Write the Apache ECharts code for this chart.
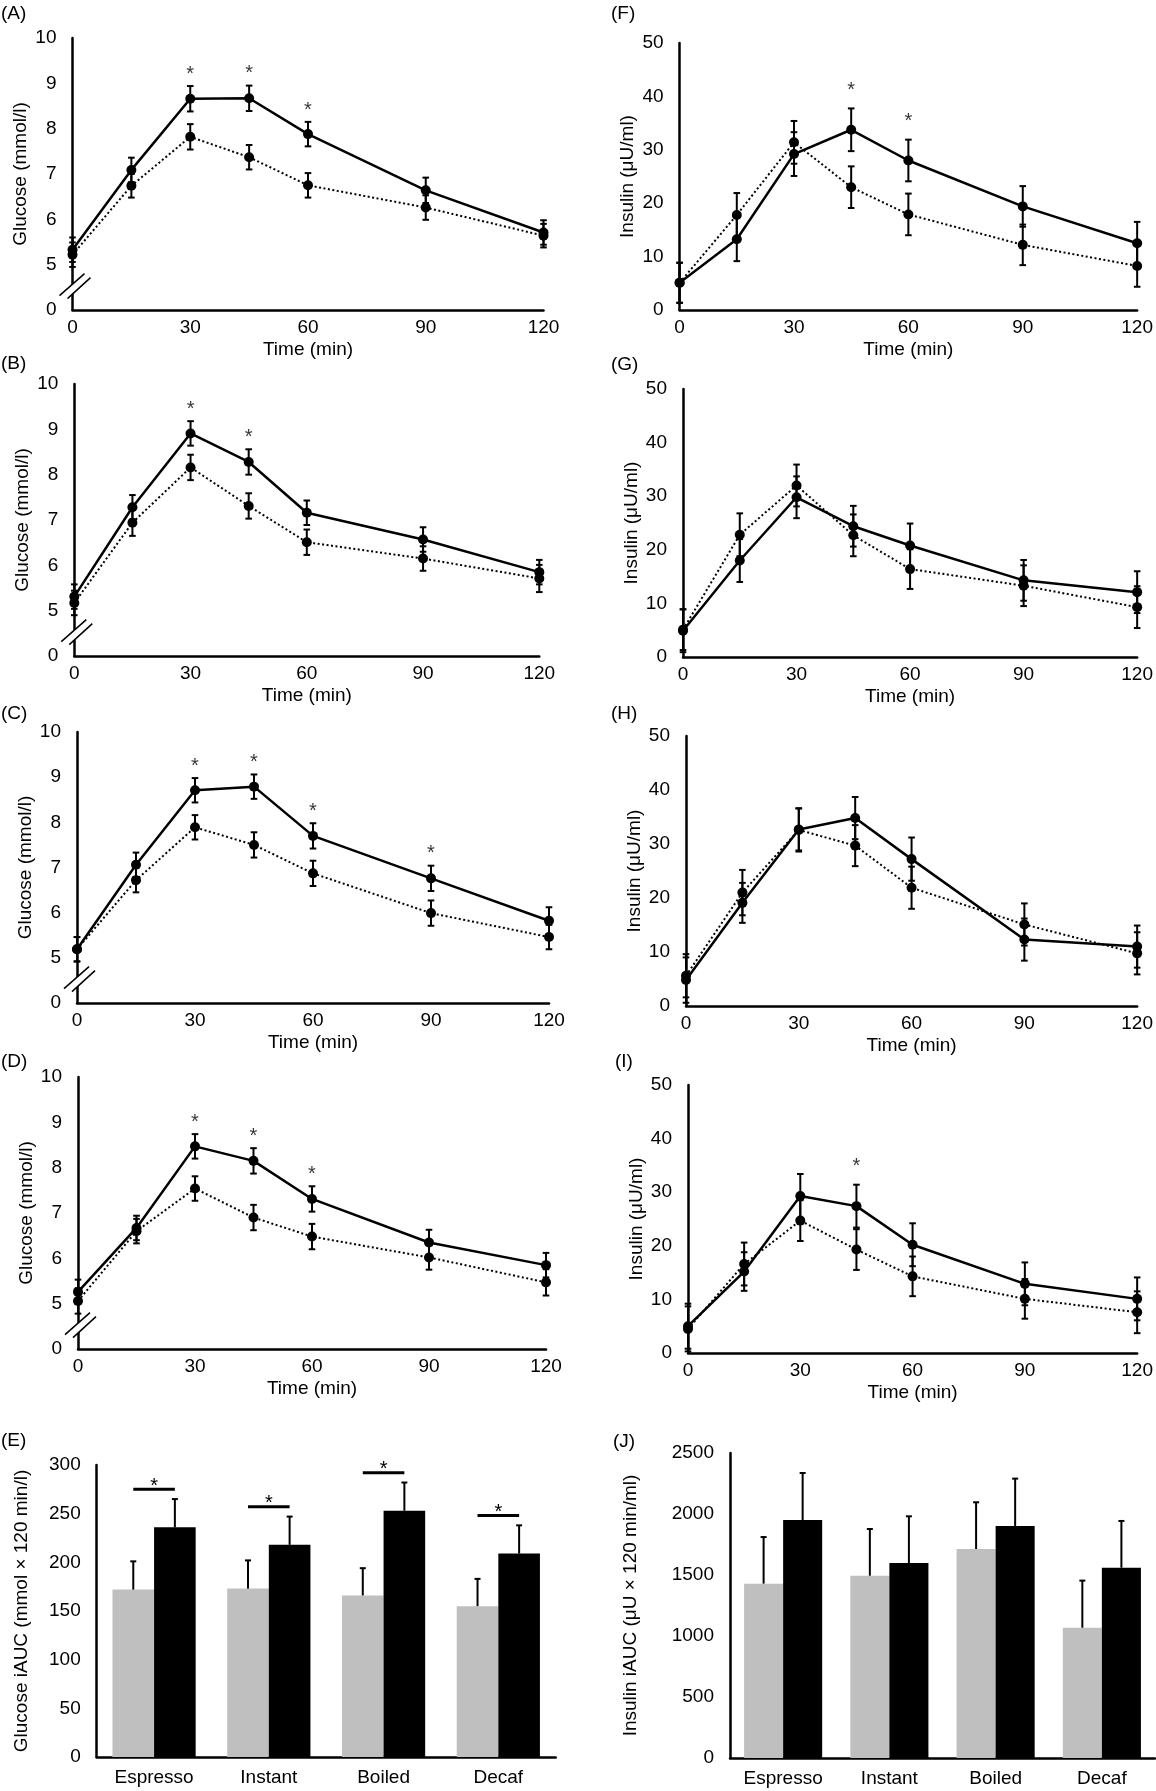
<!DOCTYPE html>
<html>
<head>
<meta charset="utf-8">
<title>Glucose and insulin responses</title>
<script src="https://cdn.jsdelivr.net/npm/echarts@6/dist/echarts.min.js"></script>
<style>
html, body { margin: 0; padding: 0; background: #fff; }
#main { width: 1156px; height: 1791px; }
</style>
</head>
<body>
<div id="main"></div>
<script>
// time points (min)
var times = [0, 15, 30, 45, 60, 90, 120];

// glucose (mmol/l) - solid line / dotted line, mean and SE
var gluA = [5.33, 7.09, 8.66, 8.67, 7.88, 6.64, 5.71];
var gluAErr = [0.27, 0.27, 0.28, 0.28, 0.27, 0.28, 0.27];
var gluADot = [5.22, 6.74, 7.82, 7.37, 6.75, 6.26, 5.64];
var gluADotErr = [0.27, 0.26, 0.28, 0.27, 0.27, 0.27, 0.26];

var gluB = [5.31, 7.28, 8.91, 8.28, 7.16, 6.57, 5.85];
var gluBErr = [0.27, 0.27, 0.27, 0.28, 0.27, 0.27, 0.27];
var gluBDot = [5.17, 6.94, 8.16, 7.31, 6.51, 6.15, 5.71];
var gluBDotErr = [0.27, 0.29, 0.28, 0.28, 0.28, 0.27, 0.3];

var gluC = [5.19, 7.06, 8.71, 8.79, 7.7, 6.76, 5.82];
var gluCErr = [0.27, 0.27, 0.27, 0.27, 0.28, 0.28, 0.3];
var gluCDot = [5.19, 6.72, 7.89, 7.5, 6.87, 5.99, 5.46];
var gluCDotErr = [0.27, 0.27, 0.27, 0.28, 0.28, 0.28, 0.27];

var gluD = [5.26, 6.67, 8.47, 8.15, 7.31, 6.35, 5.85];
var gluDErr = [0.27, 0.27, 0.27, 0.28, 0.28, 0.28, 0.27];
var gluDDot = [5.06, 6.6, 7.54, 6.9, 6.48, 6.02, 5.47];
var gluDDotErr = [0.28, 0.27, 0.27, 0.28, 0.28, 0.27, 0.29];

// insulin (μU/ml) - solid line / dotted line, mean and SE
var insF = [5.1, 13.25, 29.2, 33.75, 28, 19.4, 12.5];
var insFErr = [3.75, 4.1, 4.1, 4.0, 3.9, 3.8, 4.0];
var insFDot = [5.1, 17.8, 31.4, 23, 17.9, 12.2, 8.25];
var insFDotErr = [3.75, 4.1, 4.0, 3.9, 3.9, 3.8, 3.9];

var insG = [4.9, 18.0, 29.8, 24.4, 20.8, 14.3, 12.1];
var insGErr = [4.0, 4.0, 3.9, 3.8, 4.1, 3.8, 3.9];
var insGDot = [5.1, 22.8, 32.0, 22.7, 16.4, 13.3, 9.3];
var insGDotErr = [3.8, 4.0, 3.9, 3.9, 3.7, 3.8, 3.9];

var insH = [4.8, 19.1, 32.7, 34.8, 27.2, 12.3, 11.0];
var insHErr = [4.2, 3.7, 3.9, 3.9, 4.0, 3.9, 3.9];
var insHDot = [5.6, 21.0, 32.6, 29.7, 21.9, 15.1, 9.75];
var insHDotErr = [4.0, 4.2, 4.0, 3.8, 3.9, 3.9, 3.9];

var insI = [5.0, 15.2, 29.3, 27.4, 20.2, 12.9, 10.1];
var insIErr = [4.2, 3.6, 4.1, 4.0, 4.0, 4.0, 4.0];
var insIDot = [4.5, 16.6, 24.7, 19.3, 14.3, 10.1, 7.6];
var insIDotErr = [4.2, 4.0, 3.8, 3.8, 3.7, 3.7, 3.9];

// time points marked with *
var sigA = [30, 45, 60];
var sigB = [30, 45];
var sigC = [30, 45, 60, 90];
var sigD = [30, 45, 60];
var sigF = [45, 60];
var sigG = [];
var sigH = [];
var sigI = [45];

// iAUC bars
var coffees = ['Espresso', 'Instant', 'Boiled', 'Decaf'];
var gluAucGray = [172, 173, 166, 155];
var gluAucGrayErr = [29, 29, 28, 28];
var gluAucBlack = [236, 218, 253, 209];
var gluAucBlackErr = [29, 29, 29, 29];
var gluAucSig = [0, 1, 2, 3];
var insAucGray = [1429, 1494, 1713, 1068];
var insAucGrayErr = [382, 383, 383, 386];
var insAucBlack = [1951, 1598, 1902, 1560];
var insAucBlackErr = [385, 383, 388, 383];

var font = '"Liberation Sans", Arial, sans-serif';
var fs = 19;

var linePanels = [
    {label: '(A)', solid: gluA, solidErr: gluAErr, dot: gluADot, dotErr: gluADotErr, sig: sigA, glu: true, box: [72.5, 38, 471, 272], lab: [1, 4]},
    {label: '(F)', solid: insF, solidErr: insFErr, dot: insFDot, dotErr: insFDotErr, sig: sigF, glu: false, box: [679.6, 43, 460, 267], lab: [611, 4]},
    {label: '(B)', solid: gluB, solidErr: gluBErr, dot: gluBDot, dotErr: gluBDotErr, sig: sigB, glu: true, box: [74.3, 384, 465, 272], lab: [1, 354]},
    {label: '(G)', solid: insG, solidErr: insGErr, dot: insGDot, dotErr: insGDotErr, sig: sigG, glu: false, box: [683, 389, 458, 268], lab: [611, 355]},
    {label: '(C)', solid: gluC, solidErr: gluCErr, dot: gluCDot, dotErr: gluCDotErr, sig: sigC, glu: true, box: [77, 732, 472, 271], lab: [1, 704]},
    {label: '(H)', solid: insH, solidErr: insHErr, dot: insHDot, dotErr: insHDotErr, sig: sigH, glu: false, box: [686, 736, 458, 270], lab: [611, 704]},
    {label: '(D)', solid: gluD, solidErr: gluDErr, dot: gluDDot, dotErr: gluDDotErr, sig: sigD, glu: true, box: [78, 1077, 468, 272], lab: [1, 1052]},
    {label: '(I)', solid: insI, solidErr: insIErr, dot: insIDot, dotErr: insIDotErr, sig: sigI, glu: false, box: [688, 1085, 457, 268], lab: [615, 1052]}
];

var barPanels = [
    {label: '(E)', gray: gluAucGray, grayErr: gluAucGrayErr, black: gluAucBlack, blackErr: gluAucBlackErr, sig: gluAucSig,
     name: 'Glucose iAUC (mmol × 120 min/l)', max: 300, step: 50, gap: 0.275, nameGap: 65, box: [96.7, 1465, 459, 292], lab: [1, 1431]},
    {label: '(J)', gray: insAucGray, grayErr: insAucGrayErr, black: insAucBlack, blackErr: insAucBlackErr, sig: [],
     name: 'Insulin iAUC (μU × 120 min/ml)', max: 2500, step: 500, gap: 0.265, nameGap: 90, box: [730, 1453, 425, 305], lab: [613, 1432]}
];

var axisText = {color: '#000', fontSize: fs, fontFamily: font};
var blackLine = {color: '#000', width: 2.5};

var option = {
    animation: false,
    backgroundColor: '#fff',
    grid: [], xAxis: [], yAxis: [], series: [], graphic: []
};

function pairs(vals) {
    return times.map(function (t, k) { return [t, vals[k]]; });
}

//误差线 (both ends capped)
function renderLineErr(params, api) {
    var t = api.value(0), v = api.value(1), e = api.value(2);
    var hi = api.coord([t, v + e]);
    var lo = api.coord([t, v - e]);
    var s = {stroke: '#000', lineWidth: 2};
    return {type: 'group', children: [
        {type: 'line', shape: {x1: hi[0], y1: hi[1], x2: lo[0], y2: lo[1]}, style: s},
        {type: 'line', shape: {x1: hi[0] - 3.3, y1: hi[1], x2: hi[0] + 3.3, y2: hi[1]}, style: s},
        {type: 'line', shape: {x1: lo[0] - 3.3, y1: lo[1], x2: lo[0] + 3.3, y2: lo[1]}, style: s}
    ]};
}

//坐标轴断点 //
function renderBreak(params, api) {
    var c = api.coord([api.value(0), api.value(1)]);
    var a1 = [c[0] - 13, c[1] + 6], b1 = [c[0] + 12, c[1] - 16];
    var a2 = [c[0] - 5, c[1] + 9], b2 = [c[0] + 18, c[1] - 12];
    var s = {stroke: '#000', lineWidth: 1.5};
    return {type: 'group', children: [
        {type: 'polygon', shape: {points: [a1, b1, b2, a2]}, style: {fill: '#fff'}},
        {type: 'line', shape: {x1: a1[0], y1: a1[1], x2: b1[0], y2: b1[1]}, style: s},
        {type: 'line', shape: {x1: a2[0], y1: a2[1], x2: b2[0], y2: b2[1]}, style: s}
    ]};
}

linePanels.forEach(function (p, i) {
    option.grid.push({left: p.box[0], top: p.box[1], width: p.box[2], height: p.box[3]});
    option.xAxis.push({
        type: 'value', gridIndex: i, min: 0, max: 120, interval: 30,
        name: 'Time (min)', nameLocation: 'middle', nameGap: 30, nameTextStyle: axisText,
        axisLine: {onZero: false, lineStyle: blackLine},
        axisTick: {show: false}, splitLine: {show: false},
        axisLabel: {color: '#000', fontSize: fs, fontFamily: font, margin: 8}
    });
    option.yAxis.push({
        type: 'value', gridIndex: i,
        min: p.glu ? 4 : 0, max: p.glu ? 10 : 50, interval: p.glu ? 1 : 10,
        name: p.glu ? 'Glucose (mmol/l)' : 'Insulin (μU/ml)',
        nameLocation: 'middle', nameGap: 42, nameTextStyle: axisText,
        axisLine: {show: true, onZero: false, lineStyle: blackLine},
        axisTick: {show: false}, splitLine: {show: false},
        axisLabel: {
            color: '#000', fontSize: fs, fontFamily: font, margin: 16,
            formatter: function (v) { return (p.glu && v === 4) ? '0' : String(v); }
        }
    });
    // dotted line
    option.series.push({
        type: 'line', xAxisIndex: i, yAxisIndex: i, data: pairs(p.dot),
        symbol: 'circle', symbolSize: 10, itemStyle: {color: '#000'},
        lineStyle: {color: '#000', width: 2, type: [2, 2.5]}, z: 3
    });
    // solid line
    option.series.push({
        type: 'line', xAxisIndex: i, yAxisIndex: i, data: pairs(p.solid),
        symbol: 'circle', symbolSize: 10, itemStyle: {color: '#000'},
        lineStyle: {color: '#000', width: 2.5}, z: 3
    });
    var eb = [];
    times.forEach(function (t, k) {
        eb.push([t, p.dot[k], p.dotErr[k]]);
        eb.push([t, p.solid[k], p.solidErr[k]]);
    });
    option.series.push({
        type: 'custom', xAxisIndex: i, yAxisIndex: i, data: eb,
        renderItem: renderLineErr, z: 4, silent: true, clip: false
    });
    // * above the solid line
    var off = p.glu ? 0.26 : 3.4;
    var stars = p.sig.map(function (t) {
        var k = times.indexOf(t);
        return [t, p.solid[k] + p.solidErr[k] + off];
    });
    option.series.push({
        type: 'scatter', xAxisIndex: i, yAxisIndex: i, data: stars,
        symbolSize: 1, itemStyle: {color: 'rgba(0,0,0,0)'}, silent: true,
        label: {show: true, position: 'inside', formatter: '*', color: '#000', fontSize: 20, fontFamily: font}
    });
    if (p.glu) {
        option.series.push({
            type: 'custom', xAxisIndex: i, yAxisIndex: i, data: [[0, 4.45]],
            renderItem: renderBreak, z: 5, silent: true, clip: false
        });
    }
    option.graphic.push({type: 'text', left: p.lab[0], top: p.lab[1], style: {text: p.label, fill: '#000', fontSize: fs, fontFamily: font}});
});

barPanels.forEach(function (p, j) {
    var i = linePanels.length + j;
    var gap = p.gap;
    option.grid.push({left: p.box[0], top: p.box[1], width: p.box[2], height: p.box[3]});
    option.xAxis.push({
        type: 'category', gridIndex: i, data: coffees,
        axisLine: {lineStyle: blackLine}, axisTick: {show: false},
        axisLabel: {color: '#000', fontSize: fs, fontFamily: font, margin: 11}
    });
    option.yAxis.push({
        type: 'value', gridIndex: i, min: 0, max: p.max, interval: p.step,
        name: p.name, nameLocation: 'middle', nameGap: p.nameGap, nameTextStyle: axisText,
        axisLine: {show: true, lineStyle: blackLine}, axisTick: {show: false}, splitLine: {show: false},
        axisLabel: {color: '#000', fontSize: fs, fontFamily: font, margin: 16,
            formatter: function (v) { return String(v); }}
    });
    option.series.push({
        type: 'bar', xAxisIndex: i, yAxisIndex: i, data: p.gray,
        itemStyle: {color: '#bfbfbf'}, barGap: '0%', barCategoryGap: (gap * 100) + '%'
    });
    option.series.push({
        type: 'bar', xAxisIndex: i, yAxisIndex: i, data: p.black,
        itemStyle: {color: '#000'}, barGap: '0%', barCategoryGap: (gap * 100) + '%'
    });
    // upward error bars: [category, mean, SE, side]
    var eb = [];
    coffees.forEach(function (c, k) {
        eb.push([k, p.gray[k], p.grayErr[k], -1]);
        eb.push([k, p.black[k], p.blackErr[k], 1]);
    });
    option.series.push({
        type: 'custom', xAxisIndex: i, yAxisIndex: i, data: eb, z: 4, silent: true, clip: false,
        renderItem: function (params, api) {
            var k = api.value(0), v = api.value(1), e = api.value(2), side = api.value(3);
            var bw = api.size([1, 0])[0] * (1 - gap) / 2;
            var base = api.coord([k, v]);
            var top = api.coord([k, v + e])[1];
            var x = base[0] + side * bw / 2;
            var s = {stroke: '#000', lineWidth: 2};
            return {type: 'group', children: [
                {type: 'line', shape: {x1: x, y1: base[1], x2: x, y2: top}, style: s},
                {type: 'line', shape: {x1: x - 3, y1: top, x2: x + 3, y2: top}, style: s}
            ]};
        }
    });
    // significance line with *
    var sig = p.sig.map(function (k) { return [k, p.black[k] + p.blackErr[k] + 10]; });
    option.series.push({
        type: 'custom', xAxisIndex: i, yAxisIndex: i, data: sig, z: 4, silent: true, clip: false,
        renderItem: function (params, api) {
            var c = api.coord([api.value(0), api.value(1)]);
            var bw = api.size([1, 0])[0] * (1 - gap) / 2;
            return {type: 'group', children: [
                {type: 'line', shape: {x1: c[0] - bw / 2, y1: c[1], x2: c[0] + bw / 2, y2: c[1]}, style: {stroke: '#000', lineWidth: 3}},
                {type: 'text', x: c[0], y: c[1] - 3, style: {text: '*', fill: '#000', fontSize: 20, fontFamily: font, align: 'center', verticalAlign: 'middle'}}
            ]};
        }
    });
    option.graphic.push({type: 'text', left: p.lab[0], top: p.lab[1], style: {text: p.label, fill: '#000', fontSize: fs, fontFamily: font}});
});

var myChart = echarts.init(document.getElementById('main'));
myChart.setOption(option);
window.addEventListener('resize', function () {
    myChart.resize();
});
</script>
</body>
</html>
